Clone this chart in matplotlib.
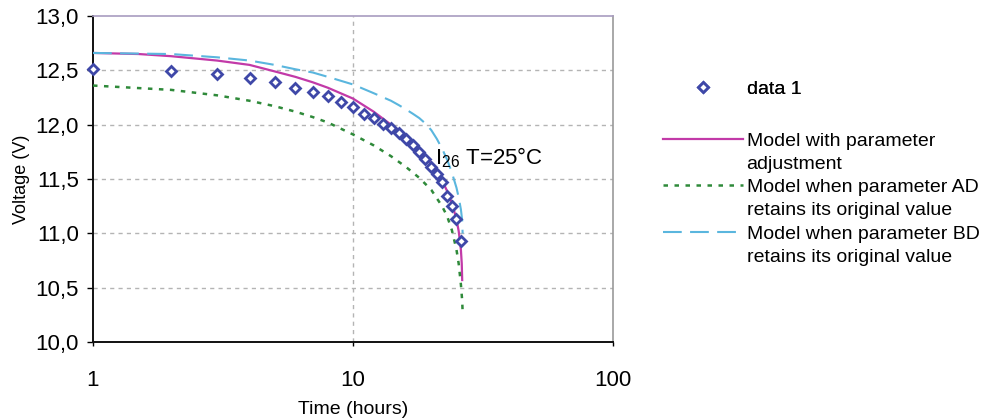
import matplotlib
matplotlib.use("Agg")
import matplotlib.pyplot as plt
from matplotlib.lines import Line2D
from matplotlib.ticker import FuncFormatter, FixedLocator, NullLocator

plt.rcParams['font.family'] = ['Liberation Sans', 'DejaVu Sans']
plt.rcParams['mathtext.fontset'] = 'custom'
plt.rcParams['mathtext.rm'] = 'Liberation Sans'

# Measured discharge voltage, hourly
data_time = list(range(1, 27))
data_voltage = [12.51, 12.49, 12.47, 12.43, 12.39, 12.34, 12.30, 12.26, 12.21, 12.16,
                12.10, 12.06, 12.01, 11.97, 11.92, 11.87, 11.81, 11.75, 11.68, 11.61,
                11.55, 11.47, 11.34, 11.25, 11.13, 10.93]

# Model with parameter adjustment
adj_time = [1, 1.5, 2, 3, 4, 5, 6, 7, 8, 10, 12, 14, 16, 18, 20, 22, 23, 24, 25, 25.5, 26, 26.2, 26.3]
adj_voltage = [12.66, 12.65, 12.63, 12.59, 12.55, 12.49, 12.44, 12.39, 12.34, 12.24, 12.12,
               12.00, 11.89, 11.77, 11.64, 11.49, 11.39, 11.28, 11.13, 11.02, 10.85, 10.72, 10.57]

# Model when parameter AD keeps its original value
ad_time = [1, 2, 3, 4, 5, 6, 7, 8, 10, 12, 14, 16, 18, 20, 22, 23, 24, 25, 25.5, 26, 26.3, 26.4]
ad_voltage = [12.36, 12.32, 12.27, 12.22, 12.17, 12.12, 12.07, 12.02, 11.91, 11.81, 11.71,
              11.61, 11.51, 11.40, 11.25, 11.16, 11.03, 10.85, 10.72, 10.53, 10.38, 10.28]

# Model when parameter BD keeps its original value
bd_time = [1, 2, 3, 4, 5, 6, 7, 8, 10, 12, 14, 15, 16, 17, 18, 19, 20, 21, 22, 23, 24, 25,
           25.5, 26, 26.3, 26.4]
bd_voltage = [12.66, 12.65, 12.62, 12.59, 12.55, 12.51, 12.48, 12.44, 12.37, 12.29, 12.22,
              12.18, 12.14, 12.10, 12.06, 12.01, 11.95, 11.87, 11.78, 11.68, 11.56, 11.42,
              11.33, 11.22, 11.12, 11.00]

y_ticks = [10.0, 10.5, 11.0, 11.5, 12.0, 12.5, 13.0]
x_ticks = [1, 10, 100]

C_DATA = '#3F48A8'
C_ADJ = '#C23AA8'
C_AD = '#2F8A3A'
C_BD = '#5AB6DE'

FS = 14
FS_TICK = 16

fig = plt.figure(figsize=(9.82, 4.19), dpi=100)
ax = fig.add_axes([93 / 982, 1 - 342 / 419, 520 / 982, 326 / 419])

ax.set_xscale('log')
ax.set_xlim(1, 100)
ax.set_ylim(10.0, 13.0)

# grid
for v in y_ticks[1:-1]:
    ax.axhline(v, color='#B4B4B4', lw=1.0, ls=(0, (3, 3)), zorder=0)
ax.axvline(10, color='#B4B4B4', lw=1.0, ls=(0, (3, 3)), zorder=0)

l_adj, = ax.plot(adj_time, adj_voltage, color=C_ADJ, lw=1.6, zorder=3)
l_ad, = ax.plot(ad_time, ad_voltage, color=C_AD, lw=1.8, ls=(0, (1.8, 2.6)), zorder=3)
l_bd, = ax.plot(bd_time, bd_voltage, color=C_BD, lw=1.5, ls=(0, (9, 4)), zorder=3)
l_data, = ax.plot(data_time, data_voltage, ls='none', marker='D', markersize=5.5,
                  markerfacecolor='white', markeredgecolor=C_DATA, markeredgewidth=2.0,
                  zorder=4, clip_on=False)

ax.text(20.6, 11.70, r'I$_{\mathrm{26}}$ T=25°C', fontsize=16, va='center', ha='left')

ax.xaxis.set_major_locator(FixedLocator(x_ticks))
ax.xaxis.set_minor_locator(NullLocator())
ax.xaxis.set_major_formatter(FuncFormatter(lambda v, p: f'{v:g}'))
ax.yaxis.set_major_locator(FixedLocator(y_ticks))
ax.yaxis.set_major_formatter(FuncFormatter(lambda v, p: f'{v:.1f}'.replace('.', ',')))

ax.tick_params(axis='x', length=3, width=1, pad=17.5, labelsize=FS_TICK, direction='out')
ax.tick_params(axis='y', length=4, width=1, pad=6, labelsize=FS_TICK, direction='out')

for side in ('left', 'bottom'):
    ax.spines[side].set_color('#111111')
    ax.spines[side].set_linewidth(1.4)
ax.spines['top'].set_color('#A89CC0')
ax.spines['top'].set_linewidth(1.2)
ax.spines['right'].set_color('#9A9A9A')
ax.spines['right'].set_linewidth(1.2)

ax.set_xlabel('Time (hours)', fontsize=FS, labelpad=7)
ax.set_ylabel('Voltage (V)', fontsize=13, labelpad=4)

# legend: marker entry, then model entries with their second label lines
blank = Line2D([], [], color='none')
leg_kw = dict(loc='upper left', frameon=False, fontsize=FS, handlelength=4.1,
              handletextpad=0.2, borderpad=0, borderaxespad=0)
leg1 = fig.legend([l_data], ['data 1'], bbox_to_anchor=(663 / 982, 1 - 80 / 419), **leg_kw)
fig.add_artist(leg1)
fig.legend([l_adj, blank, l_ad, blank, l_bd, blank],
           ['Model with parameter', 'adjustment',
            'Model when parameter AD', 'retains its original value',
            'Model when parameter BD', 'retains its original value'],
           bbox_to_anchor=(663 / 982, 1 - 132 / 419), labelspacing=0.29, **leg_kw)

fig.savefig('out.png', dpi=100)
